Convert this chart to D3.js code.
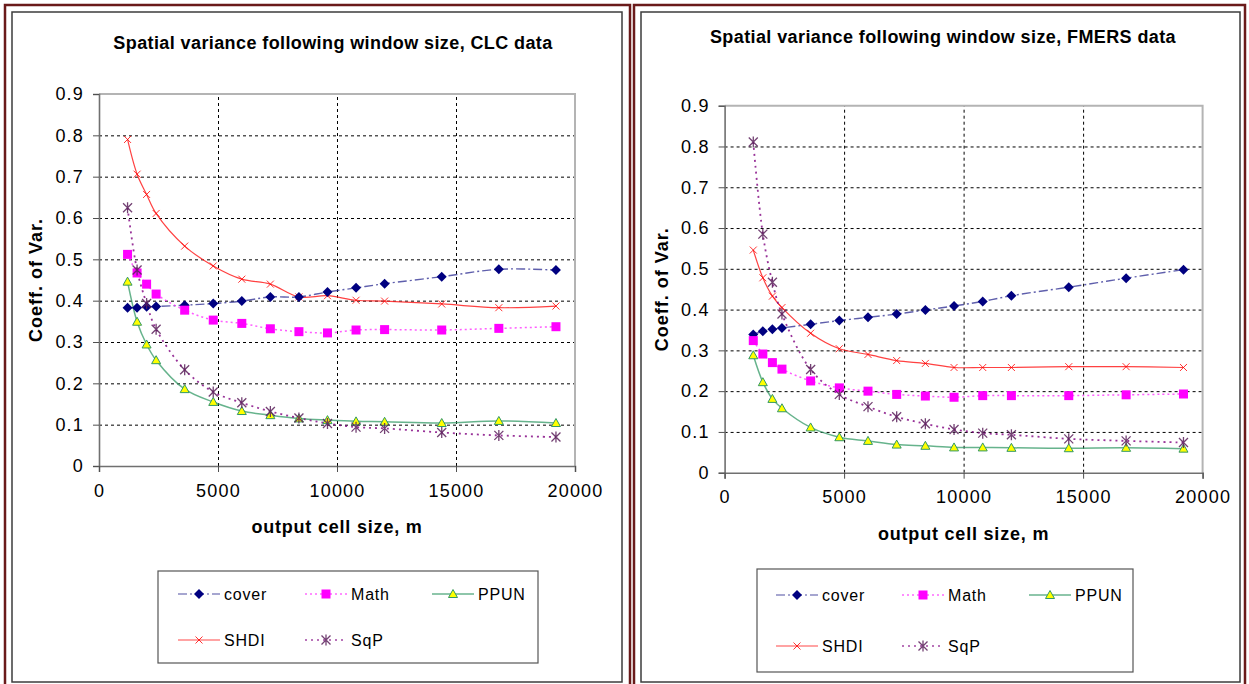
<!DOCTYPE html>
<html>
<head>
<meta charset="utf-8">
<script src="https://cdn.jsdelivr.net/npm/d3@7"></script>
<style>
  body { margin: 0; background: #fff; }
  svg { display: block; font-family: "Liberation Sans", Arial, sans-serif; }
</style>
</head>
<body>
<div class="canvas"></div>
<script>
// window sizes, m
const xValues = [1200, 1600, 2000, 2400, 3600, 4800, 6000, 7200, 8400, 9600, 10800, 12000, 14400, 16800, 19200];
const seriesNames = ['cover', 'Math', 'PPUN', 'SHDI', 'SqP'];
const yTicks = [0, 0.1, 0.2, 0.3, 0.4, 0.5, 0.6, 0.7, 0.8, 0.9];
const xTicks = [0, 5000, 10000, 15000, 20000];
const titles = ['Spatial variance following window size, CLC data', 'Spatial variance following window size, FMERS data'];

// CLC data
const clcCover = [0.383, 0.383, 0.385, 0.386, 0.389, 0.393, 0.399, 0.409, 0.409, 0.421, 0.431, 0.441, 0.458, 0.476, 0.474];
const clcMath  = [0.512, 0.467, 0.440, 0.416, 0.377, 0.353, 0.345, 0.332, 0.325, 0.322, 0.329, 0.330, 0.329, 0.333, 0.337];
const clcPPUN  = [0.446, 0.349, 0.294, 0.256, 0.186, 0.155, 0.133, 0.123, 0.115, 0.111, 0.108, 0.107, 0.104, 0.109, 0.104];
const clcSHDI  = [0.790, 0.706, 0.657, 0.611, 0.532, 0.484, 0.452, 0.440, 0.409, 0.412, 0.401, 0.399, 0.392, 0.383, 0.387];
const clcSqP   = [0.625, 0.474, 0.393, 0.331, 0.233, 0.179, 0.153, 0.132, 0.116, 0.103, 0.094, 0.091, 0.081, 0.074, 0.070];

// FMERS data
const fmCover = [0.339, 0.347, 0.352, 0.355, 0.364, 0.373, 0.381, 0.389, 0.399, 0.409, 0.420, 0.434, 0.455, 0.477, 0.498];
const fmMath  = [0.324, 0.291, 0.270, 0.254, 0.225, 0.208, 0.200, 0.192, 0.188, 0.185, 0.189, 0.189, 0.189, 0.191, 0.193];
const fmPPUN  = [0.288, 0.222, 0.181, 0.158, 0.111, 0.087, 0.078, 0.069, 0.066, 0.062, 0.062, 0.061, 0.060, 0.061, 0.059];
const fmSHDI  = [0.546, 0.478, 0.433, 0.405, 0.342, 0.304, 0.290, 0.275, 0.268, 0.258, 0.258, 0.258, 0.260, 0.260, 0.258];
const fmSqP   = [0.811, 0.585, 0.467, 0.389, 0.253, 0.192, 0.162, 0.137, 0.120, 0.106, 0.097, 0.093, 0.083, 0.078, 0.074];

const styles = {
    cover: { line: '#2a2a90', dash: '9,3,2,3', width: 1.4, opacity: 0.75, marker: 'diamond', fill: '#000080', stroke: '#000080' },
    Math:  { line: '#ff33ff', dash: '2,3', width: 1.5, opacity: 0.8, marker: 'square', fill: '#ff00ff', stroke: '#ff00ff' },
    PPUN:  { line: '#339966', dash: null, width: 1.5, opacity: 0.75, marker: 'triangle', fill: '#ffff00', stroke: '#339966' },
    SHDI:  { line: '#ff2020', dash: null, width: 1.2, opacity: 0.85, marker: 'cross', fill: 'none', stroke: '#ff0000' },
    SqP:   { line: '#800080', dash: '2,4', width: 1.8, opacity: 0.8, marker: 'star', fill: 'none', stroke: '#800080' }
};

const panels = [
    { title: titles[0], series: [clcCover, clcMath, clcPPUN, clcSHDI, clcSqP],
      frame: { x: 5, y: 5, w: 625, h: 690 }, inner: { x: 12, y: 12, w: 610, h: 670 },
      plot: { x0: 99, x1: 575, yTop: 94, yBottom: 466 }, titleY: 49, titleX: 333,
      legend: { x: 158, y: 571, w: 380, h: 92, rows: [594, 640], cols: [178, 305, 432] } },
    { title: titles[1], series: [fmCover, fmMath, fmPPUN, fmSHDI, fmSqP],
      frame: { x: 634, y: 5, w: 611, h: 690 }, inner: { x: 641, y: 12, w: 599, h: 670 },
      plot: { x0: 724.6, x1: 1202.6, yTop: 105.7, yBottom: 472.7 }, titleY: 43, titleX: 943,
      legend: { x: 757, y: 569, w: 376, h: 103, rows: [595, 646], cols: [776, 902, 1029] } }
];

const svg = d3.select('.canvas')
    .append('svg')
    .attr('width', 1249)
    .attr('height', 684);

const drawMarker = (g, type, cx, cy) => {
    const st = styles[type];
    if (st.marker === 'diamond') {
        g.append('path').attr('d', `M${cx},${cy - 5}L${cx + 5},${cy}L${cx},${cy + 5}L${cx - 5},${cy}Z`)
            .attr('fill', st.fill);
    } else if (st.marker === 'square') {
        g.append('rect').attr('x', cx - 4.5).attr('y', cy - 4.5).attr('width', 9).attr('height', 9).attr('fill', st.fill);
    } else if (st.marker === 'triangle') {
        g.append('path').attr('d', `M${cx},${cy - 4.5}L${cx + 4.5},${cy + 3.5}L${cx - 4.5},${cy + 3.5}Z`)
            .attr('fill', st.fill).attr('stroke', st.stroke).attr('stroke-width', 1);
    } else if (st.marker === 'cross') {
        g.append('path').attr('d', `M${cx - 3.5},${cy - 3.5}L${cx + 3.5},${cy + 3.5}M${cx + 3.5},${cy - 3.5}L${cx - 3.5},${cy + 3.5}`)
            .attr('stroke', st.stroke).attr('stroke-width', 1).attr('fill', 'none').attr('opacity', 0.8);
    } else if (st.marker === 'star') {
        g.append('path').attr('d', `M${cx - 4.5},${cy - 4.5}L${cx + 4.5},${cy + 4.5}M${cx + 4.5},${cy - 4.5}L${cx - 4.5},${cy + 4.5}M${cx},${cy - 5.5}L${cx},${cy + 5.5}`)
            .attr('stroke', '#5a205a').attr('stroke-width', 1.3).attr('fill', 'none').attr('opacity', 0.85);
    }
};

const drawPanel = p => {
    // frames
    svg.append('rect').attr('x', p.frame.x).attr('y', p.frame.y).attr('width', p.frame.w).attr('height', p.frame.h)
        .attr('fill', 'none').attr('stroke', '#6a1a1a').attr('stroke-width', 2.5);
    svg.append('rect').attr('x', p.inner.x).attr('y', p.inner.y).attr('width', p.inner.w).attr('height', p.inner.h)
        .attr('fill', '#fff').attr('stroke', '#3c3c3c').attr('stroke-width', 1.5);

    const x = d3.scaleLinear().domain([0, 20000]).range([p.plot.x0, p.plot.x1]);
    const y = d3.scaleLinear().domain([0, 0.9]).range([p.plot.yBottom, p.plot.yTop]);
    const g = svg.append('g');

    // title
    g.append('text').attr('x', p.titleX).attr('y', p.titleY).attr('text-anchor', 'middle')
        .attr('font-size', 18).attr('font-weight', 'bold').style('letter-spacing', '0.4px').text(p.title);

    // grid
    const yGrid = g.append('g').attr('transform', `translate(${p.plot.x0},0)`)
        .call(d3.axisLeft(y).tickValues(yTicks.slice(1, -1)).tickSize(-(p.plot.x1 - p.plot.x0)).tickFormat(''));
    const xGrid = g.append('g').attr('transform', `translate(0,${p.plot.yBottom})`)
        .call(d3.axisBottom(x).tickValues(xTicks.slice(1, -1)).tickSize(-(p.plot.yBottom - p.plot.yTop)).tickFormat(''));
    [yGrid, xGrid].forEach(a => {
        a.select('.domain').remove();
        a.selectAll('line').attr('stroke', '#000').attr('stroke-dasharray', '3,3').attr('stroke-width', 1);
    });

    // plot border (top & right)
    g.append('path').attr('d', `M${p.plot.x0},${p.plot.yTop}H${p.plot.x1}V${p.plot.yBottom}`)
        .attr('fill', 'none').attr('stroke', '#b4b4b4').attr('stroke-width', 2);

    // axes
    const yAxis = g.append('g').attr('transform', `translate(${p.plot.x0},0)`)
        .call(d3.axisLeft(y).tickValues(yTicks).tickSize(6).tickPadding(9).tickFormat(d => d === 0 ? '0' : d3.format('.1f')(d)));
    const xAxis = g.append('g').attr('transform', `translate(0,${p.plot.yBottom})`)
        .call(d3.axisBottom(x).tickValues(xTicks).tickSize(6).tickPadding(12).tickFormat(d3.format('d')));
    [yAxis, xAxis].forEach(a => {
        a.select('.domain').attr('stroke', '#707070').attr('stroke-width', 1.6);
        a.selectAll('line').attr('stroke', '#505050');
        a.selectAll('text').attr('font-size', 18).attr('fill', '#000')
            .attr('font-family', '"Liberation Sans", Arial, sans-serif').style('letter-spacing', '1.2px');
    });

    // axis titles
    g.append('text').attr('transform', `translate(${p.plot.x0 - 57},${(p.plot.yTop + p.plot.yBottom) / 2}) rotate(-90)`)
        .attr('text-anchor', 'middle').attr('font-size', 18).attr('font-weight', 'bold')
        .style('letter-spacing', '1px').text('Coeff. of Var.');
    g.append('text').attr('x', (p.plot.x0 + p.plot.x1) / 2).attr('y', p.plot.yBottom + 67)
        .attr('text-anchor', 'middle').attr('font-size', 18).attr('font-weight', 'bold')
        .style('letter-spacing', '0.8px').text('output cell size, m');

    // series
    const line = d3.line().x(d => x(d[0])).y(d => y(d[1])).curve(d3.curveCatmullRom.alpha(0.5));
    const order = [3, 0, 1, 2, 4];
    order.forEach(i => {
        const name = seriesNames[i];
        const st = styles[name];
        const pts = xValues.map((v, j) => [v, p.series[i][j]]);
        g.append('path').datum(pts).attr('d', line).attr('fill', 'none')
            .attr('stroke', st.line).attr('stroke-width', st.width).attr('opacity', st.opacity)
            .attr('stroke-dasharray', st.dash);
    });
    order.forEach(i => {
        const name = seriesNames[i];
        p.series[i].forEach((v, j) => drawMarker(g, name, x(xValues[j]), y(v)));
    });

    // legend
    const L = p.legend;
    const lg = g.append('g');
    lg.append('rect').attr('x', L.x).attr('y', L.y).attr('width', L.w).attr('height', L.h)
        .attr('fill', '#fff').attr('stroke', '#555').attr('stroke-width', 1.2);
    seriesNames.forEach((name, i) => {
        const st = styles[name];
        const cx = L.cols[i % 3];
        const cy = L.rows[Math.floor(i / 3)];
        lg.append('line').attr('x1', cx).attr('x2', cx + 42).attr('y1', cy).attr('y2', cy)
            .attr('stroke', st.line).attr('stroke-width', st.width + 0.3).attr('opacity', 0.55)
            .attr('stroke-dasharray', st.dash);
        drawMarker(lg, name, cx + 21, cy);
        lg.append('text').attr('x', cx + 46).attr('y', cy + 6).attr('font-size', 16)
            .style('letter-spacing', '0.8px').text(name);
    });
};

panels.forEach(drawPanel);
</script>
</body>
</html>
